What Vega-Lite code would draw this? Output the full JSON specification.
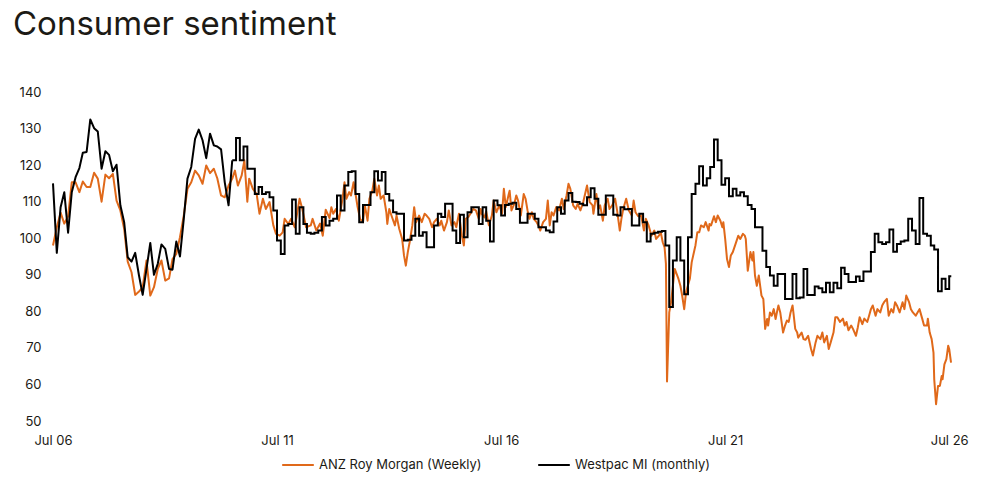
{
  "$schema": "https://vega.github.io/schema/vega-lite/v6.json",
  "width": 900,
  "height": 329,
  "padding": {"left": 13, "top": 9, "right": 10, "bottom": 5},
  "title": {"text": "Consumer sentiment", "anchor": "start", "frame": "bounds", "fontSize": 33, "font": "Inter", "fontWeight": 400, "color": "#1c1a15", "offset": 44},
  "datasets": {
    "anz": [
      {"date":"2006-07-01","value":98},{"date":"2006-08-01","value":103},{"date":"2006-09-01","value":107},{"date":"2006-10-01","value":104},{"date":"2006-11-01","value":106},{"date":"2006-12-01","value":115.3},
      {"date":"2007-01-01","value":115.3},{"date":"2007-02-01","value":112.6},{"date":"2007-03-01","value":115.5},{"date":"2007-04-01","value":114},{"date":"2007-05-01","value":114},{"date":"2007-06-01","value":117.9},
      {"date":"2007-07-01","value":116.3},{"date":"2007-08-01","value":110},{"date":"2007-09-01","value":117.4},{"date":"2007-10-01","value":116.4},{"date":"2007-11-01","value":117.6},{"date":"2007-12-01","value":110.3},
      {"date":"2008-01-01","value":107.6},{"date":"2008-02-01","value":102.6},{"date":"2008-03-01","value":93.6},{"date":"2008-04-01","value":90.7},{"date":"2008-05-01","value":84.5},{"date":"2008-06-01","value":85.4},
      {"date":"2008-07-01","value":86.6},{"date":"2008-08-01","value":93.9},{"date":"2008-09-01","value":84.3},{"date":"2008-10-01","value":86.6},{"date":"2008-11-01","value":91.6},{"date":"2008-12-01","value":93.9},
      {"date":"2009-01-01","value":88.4},{"date":"2009-02-01","value":89},{"date":"2009-03-01","value":94.3},{"date":"2009-04-01","value":95.7},{"date":"2009-05-01","value":100.3},{"date":"2009-06-01","value":106.2},
      {"date":"2009-07-01","value":113.5},{"date":"2009-08-01","value":115.3},{"date":"2009-09-01","value":118.5},{"date":"2009-10-01","value":117.2},{"date":"2009-11-01","value":114.9},{"date":"2009-12-01","value":119.9},
      {"date":"2010-01-01","value":117.8},{"date":"2010-02-01","value":119},{"date":"2010-03-01","value":116.4},{"date":"2010-04-01","value":111.7},{"date":"2010-05-01","value":111.2},{"date":"2010-06-01","value":114.4},
      {"date":"2010-07-01","value":116.3},{"date":"2010-07-23","value":118.5},{"date":"2010-08-16","value":114.4},{"date":"2010-09-16","value":117.2},{"date":"2010-10-08","value":121.3},{"date":"2010-11-01","value":110},
      {"date":"2010-11-16","value":116.3},{"date":"2010-12-16","value":113.5},{"date":"2011-01-16","value":112.1},{"date":"2011-02-08","value":106.7},{"date":"2011-03-08","value":110.8},{"date":"2011-04-01","value":108},
      {"date":"2011-05-01","value":109.9},{"date":"2011-06-01","value":103.5},{"date":"2011-06-23","value":101.2},{"date":"2011-07-23","value":100.7},{"date":"2011-08-16","value":101.6},{"date":"2011-09-01","value":105.3},
      {"date":"2011-10-01","value":103.9},{"date":"2011-10-23","value":105.3},{"date":"2011-11-23","value":103},{"date":"2011-12-16","value":107.6},{"date":"2012-01-01","value":110.8},{"date":"2012-01-23","value":108},
      {"date":"2012-02-23","value":103},{"date":"2012-04-01","value":103.5},{"date":"2012-04-16","value":105.3},{"date":"2012-05-16","value":102.1},{"date":"2012-06-16","value":104},{"date":"2012-07-08","value":100.7},
      {"date":"2012-08-01","value":107.8},{"date":"2012-09-01","value":105.5},{"date":"2012-09-16","value":108.5},{"date":"2012-10-01","value":106.7},{"date":"2012-10-23","value":108},{"date":"2012-11-16","value":104.8},
      {"date":"2012-12-16","value":110.8},{"date":"2013-01-01","value":115.3},{"date":"2013-01-16","value":110.8},{"date":"2013-02-08","value":112.6},{"date":"2013-02-23","value":111.7},{"date":"2013-03-16","value":115.3},
      {"date":"2013-04-01","value":112.1},{"date":"2013-04-16","value":108.9},{"date":"2013-05-08","value":105.3},{"date":"2013-06-01","value":104.4},{"date":"2013-06-16","value":109},{"date":"2013-07-08","value":104.8},
      {"date":"2013-07-23","value":110.8},{"date":"2013-08-16","value":113},{"date":"2013-09-01","value":116.3},{"date":"2013-09-23","value":111.7},{"date":"2013-10-08","value":114.4},{"date":"2013-10-23","value":110.8},
      {"date":"2013-11-16","value":111.7},{"date":"2013-12-08","value":107.1},{"date":"2013-12-16","value":103.9},{"date":"2014-01-01","value":108},{"date":"2014-01-23","value":105.8},{"date":"2014-02-16","value":103.5},
      {"date":"2014-03-01","value":106.2},{"date":"2014-03-23","value":102.6},{"date":"2014-04-16","value":99.8},{"date":"2014-05-01","value":95.3},{"date":"2014-05-16","value":92.5},{"date":"2014-06-01","value":96.2},
      {"date":"2014-06-16","value":98.9},{"date":"2014-07-08","value":103.5},{"date":"2014-07-23","value":108.5},{"date":"2014-08-08","value":104.4},{"date":"2014-09-01","value":106.2},{"date":"2014-09-23","value":104.4},
      {"date":"2014-10-16","value":106.7},{"date":"2014-11-01","value":106.2},{"date":"2014-11-23","value":105.3},{"date":"2014-12-16","value":103},{"date":"2015-01-01","value":104.4},{"date":"2015-01-23","value":105.3},
      {"date":"2015-02-16","value":103.5},{"date":"2015-03-01","value":104.8},{"date":"2015-03-23","value":102.1},{"date":"2015-04-16","value":104.4},{"date":"2015-05-01","value":107.6},{"date":"2015-05-23","value":103.5},
      {"date":"2015-06-16","value":104.4},{"date":"2015-07-01","value":103},{"date":"2015-07-23","value":106.7},{"date":"2015-08-16","value":100.7},{"date":"2015-09-01","value":98},{"date":"2015-09-16","value":105.3},
      {"date":"2015-10-08","value":105.8},{"date":"2015-11-01","value":107.1},{"date":"2015-11-16","value":108},{"date":"2015-12-08","value":107.6},{"date":"2016-01-01","value":105.3},{"date":"2016-01-16","value":108},
      {"date":"2016-01-23","value":106.7},{"date":"2016-02-16","value":105.7},{"date":"2016-03-01","value":107.3},{"date":"2016-03-23","value":103.5},{"date":"2016-04-16","value":106.2},{"date":"2016-05-01","value":110.3},
      {"date":"2016-05-23","value":107.1},{"date":"2016-06-16","value":109},{"date":"2016-07-08","value":106.7},{"date":"2016-07-23","value":113.5},{"date":"2016-08-08","value":108.5},{"date":"2016-09-01","value":112.1},
      {"date":"2016-09-08","value":113},{"date":"2016-09-23","value":107.6},{"date":"2016-10-16","value":109.4},{"date":"2016-11-01","value":111.7},{"date":"2016-11-16","value":110.3},{"date":"2016-12-08","value":106.2},
      {"date":"2017-01-01","value":112.1},{"date":"2017-01-16","value":110.8},{"date":"2017-02-01","value":107.6},{"date":"2017-02-16","value":105.3},{"date":"2017-03-08","value":107.1},{"date":"2017-03-23","value":105.3},
      {"date":"2017-04-16","value":104.4},{"date":"2017-05-01","value":103.5},{"date":"2017-05-16","value":102.1},{"date":"2017-06-08","value":104.4},{"date":"2017-07-01","value":105.3},{"date":"2017-07-16","value":110.3},
      {"date":"2017-08-01","value":103.5},{"date":"2017-08-16","value":107.1},{"date":"2017-09-01","value":106.2},{"date":"2017-09-23","value":108.5},{"date":"2017-10-16","value":107.6},{"date":"2017-11-08","value":110.8},
      {"date":"2017-11-23","value":108},{"date":"2017-12-16","value":111.7},{"date":"2018-01-01","value":114.9},{"date":"2018-01-16","value":113.5},{"date":"2018-02-08","value":109},{"date":"2018-03-01","value":108},
      {"date":"2018-03-16","value":109.4},{"date":"2018-04-08","value":107.6},{"date":"2018-05-01","value":109.9},{"date":"2018-05-16","value":112.1},{"date":"2018-06-01","value":114.4},{"date":"2018-06-23","value":109.9},
      {"date":"2018-07-16","value":109},{"date":"2018-07-23","value":106.7},{"date":"2018-08-16","value":112.1},{"date":"2018-09-01","value":108},{"date":"2018-09-16","value":109},{"date":"2018-10-08","value":104.8},
      {"date":"2018-10-23","value":109},{"date":"2018-11-16","value":110.8},{"date":"2018-12-01","value":108},{"date":"2018-12-23","value":109},{"date":"2019-01-16","value":110.8},{"date":"2019-02-01","value":107.6},
      {"date":"2019-02-23","value":102.1},{"date":"2019-03-08","value":105.3},{"date":"2019-03-23","value":108},{"date":"2019-04-16","value":110.8},{"date":"2019-05-08","value":107.6},{"date":"2019-06-01","value":106.2},
      {"date":"2019-06-16","value":110.3},{"date":"2019-07-01","value":107.1},{"date":"2019-07-23","value":106},{"date":"2019-08-16","value":106.2},{"date":"2019-09-08","value":102.1},{"date":"2019-09-23","value":105.3},
      {"date":"2019-10-16","value":103.5},{"date":"2019-11-08","value":100.7},{"date":"2019-12-01","value":102.1},{"date":"2019-12-16","value":99.8},{"date":"2020-01-08","value":100.7},{"date":"2020-01-23","value":101.6},
      {"date":"2020-02-08","value":98.9},{"date":"2020-02-23","value":97.5},{"date":"2020-03-05","value":93},{"date":"2020-03-14","value":60.8},{"date":"2020-04-01","value":79.7},{"date":"2020-04-16","value":82.5},
      {"date":"2020-05-16","value":91.6},{"date":"2020-06-01","value":90.2},{"date":"2020-06-16","value":88.8},{"date":"2020-07-01","value":87},{"date":"2020-07-16","value":84.2},{"date":"2020-08-01","value":80.6},
      {"date":"2020-08-16","value":85.2},{"date":"2020-08-23","value":86.1},{"date":"2020-09-16","value":88.9},{"date":"2020-10-01","value":93.4},{"date":"2020-11-01","value":98.1},{"date":"2020-11-16","value":101.6},
      {"date":"2020-12-01","value":101.6},{"date":"2020-12-16","value":103.5},{"date":"2021-01-08","value":103},{"date":"2021-01-23","value":104.4},{"date":"2021-02-16","value":102.1},{"date":"2021-02-23","value":103.9},
      {"date":"2021-03-08","value":103.5},{"date":"2021-04-01","value":106},{"date":"2021-04-16","value":104.4},{"date":"2021-05-01","value":106.2},{"date":"2021-05-23","value":104.8},{"date":"2021-06-08","value":103},
      {"date":"2021-06-16","value":104.4},{"date":"2021-07-01","value":99.8},{"date":"2021-07-16","value":94.3},{"date":"2021-08-01","value":92.1},{"date":"2021-08-16","value":95.3},{"date":"2021-09-01","value":96.2},
      {"date":"2021-09-23","value":98.4},{"date":"2021-10-16","value":100.7},{"date":"2021-11-01","value":99.8},{"date":"2021-11-23","value":101.2},{"date":"2021-12-08","value":100.7},{"date":"2021-12-16","value":99.8},
      {"date":"2022-01-01","value":91.1},{"date":"2022-01-23","value":96.2},{"date":"2022-02-08","value":93.9},{"date":"2022-02-16","value":96.2},{"date":"2022-03-01","value":89.8},{"date":"2022-03-16","value":87},
      {"date":"2022-04-01","value":89.8},{"date":"2022-04-23","value":84.3},{"date":"2022-05-08","value":83.4},{"date":"2022-05-23","value":75.2},{"date":"2022-06-08","value":77.9},{"date":"2022-06-16","value":76.1},
      {"date":"2022-07-01","value":79.7},{"date":"2022-07-16","value":78.8},{"date":"2022-08-01","value":80.6},{"date":"2022-08-16","value":77.9},{"date":"2022-09-01","value":80.6},{"date":"2022-09-08","value":81.6},
      {"date":"2022-09-23","value":79.7},{"date":"2022-10-16","value":74.2},{"date":"2022-11-01","value":76.1},{"date":"2022-11-16","value":77.5},{"date":"2022-12-01","value":77.1},{"date":"2022-12-16","value":79.7},
      {"date":"2023-01-01","value":81.6},{"date":"2023-01-08","value":79.7},{"date":"2023-01-23","value":75.2},{"date":"2023-02-08","value":74.2},{"date":"2023-02-16","value":72.8},{"date":"2023-03-16","value":74.2},
      {"date":"2023-04-01","value":72.4},{"date":"2023-04-16","value":72.2},{"date":"2023-05-08","value":73.3},{"date":"2023-06-01","value":69.7},{"date":"2023-06-16","value":67.9},{"date":"2023-07-08","value":71.5},
      {"date":"2023-07-23","value":73.3},{"date":"2023-08-16","value":72.4},{"date":"2023-09-01","value":74.2},{"date":"2023-09-16","value":71.5},{"date":"2023-10-08","value":73.3},{"date":"2023-10-23","value":69.7},
      {"date":"2023-11-08","value":71.5},{"date":"2023-12-01","value":74.2},{"date":"2023-12-16","value":78.4},{"date":"2024-01-01","value":78.4},{"date":"2024-01-23","value":77.1},{"date":"2024-02-16","value":78},
      {"date":"2024-03-01","value":76.1},{"date":"2024-03-16","value":77.1},{"date":"2024-04-01","value":74.8},{"date":"2024-04-23","value":76.1},{"date":"2024-05-08","value":75.2},{"date":"2024-06-01","value":73.3},
      {"date":"2024-06-16","value":75.6},{"date":"2024-07-01","value":78.4},{"date":"2024-07-23","value":76.5},{"date":"2024-08-08","value":78},{"date":"2024-09-01","value":77.1},{"date":"2024-09-16","value":78.8},
      {"date":"2024-10-01","value":80.6},{"date":"2024-10-16","value":81.6},{"date":"2024-11-08","value":78.8},{"date":"2024-11-23","value":80.6},{"date":"2024-12-16","value":79.7},{"date":"2025-01-01","value":81.6},
      {"date":"2025-01-16","value":82.5},{"date":"2025-02-08","value":83.4},{"date":"2025-02-23","value":78.8},{"date":"2025-03-16","value":80.6},{"date":"2025-04-01","value":79.7},{"date":"2025-04-16","value":82.5},
      {"date":"2025-05-01","value":81.6},{"date":"2025-05-23","value":79.7},{"date":"2025-06-16","value":82.5},{"date":"2025-07-01","value":80.6},{"date":"2025-07-16","value":84.3},{"date":"2025-08-08","value":82.5},
      {"date":"2025-08-23","value":80.6},{"date":"2025-09-08","value":79.7},{"date":"2025-10-01","value":78.8},{"date":"2025-10-16","value":79.7},{"date":"2025-11-01","value":80.6},{"date":"2025-11-23","value":78},
      {"date":"2025-12-08","value":76.1},{"date":"2026-01-01","value":76.1},{"date":"2026-01-08","value":78},{"date":"2026-01-23","value":74.2},{"date":"2026-02-08","value":72.4},{"date":"2026-02-23","value":68.7},
      {"date":"2026-03-01","value":61.4},{"date":"2026-03-16","value":54.6},{"date":"2026-04-01","value":59.6},{"date":"2026-04-16","value":59.6},{"date":"2026-05-01","value":62.3},{"date":"2026-05-08","value":61.4},
      {"date":"2026-05-23","value":65.5},{"date":"2026-06-08","value":66.9},{"date":"2026-06-23","value":70.6},{"date":"2026-07-01","value":69.7},{"date":"2026-07-16","value":66}
    ],
    "wpc": [
      {"date":"2006-07-01","value":115},{"date":"2006-08-01","value":96},{"date":"2006-09-01","value":108.5},{"date":"2006-10-01","value":112.6},{"date":"2006-11-01","value":101.5},{"date":"2006-12-01","value":112.6},
      {"date":"2007-01-01","value":116.7},{"date":"2007-02-01","value":119.2},{"date":"2007-03-01","value":123.4},{"date":"2007-04-01","value":123.6},{"date":"2007-05-01","value":132.5},{"date":"2007-06-01","value":130.1},
      {"date":"2007-07-01","value":129.2},{"date":"2007-08-01","value":119},{"date":"2007-09-01","value":123.8},{"date":"2007-10-01","value":122.8},{"date":"2007-11-01","value":118.3},{"date":"2007-12-01","value":120.1},
      {"date":"2008-01-01","value":109},{"date":"2008-02-01","value":104.4},{"date":"2008-03-01","value":94.8},{"date":"2008-04-01","value":93.6},{"date":"2008-05-01","value":96},{"date":"2008-06-01","value":89.8},
      {"date":"2008-07-01","value":84.5},{"date":"2008-08-01","value":91.6},{"date":"2008-09-01","value":98.7},{"date":"2008-10-01","value":90},{"date":"2008-11-01","value":93},{"date":"2008-12-01","value":98.3},
      {"date":"2009-01-01","value":97.1},{"date":"2009-02-01","value":91.6},{"date":"2009-03-01","value":91.4},{"date":"2009-04-01","value":99.1},{"date":"2009-05-01","value":95},{"date":"2009-06-01","value":105.3},
      {"date":"2009-07-01","value":116.3},{"date":"2009-08-01","value":119.5},{"date":"2009-09-01","value":127.2},{"date":"2009-10-01","value":129.7},{"date":"2009-11-01","value":126.8},{"date":"2009-12-01","value":121.9},
      {"date":"2010-01-01","value":128.6},{"date":"2010-02-01","value":125.4},{"date":"2010-03-01","value":125.1},{"date":"2010-04-01","value":124.3},{"date":"2010-05-01","value":115.3},{"date":"2010-06-01","value":109},
      {"date":"2010-07-01","value":121.3},{"date":"2010-08-01","value":127.4},{"date":"2010-09-01","value":121.3},{"date":"2010-10-01","value":125.1},{"date":"2010-11-01","value":119},{"date":"2010-12-01","value":119},
      {"date":"2011-01-01","value":112.1},{"date":"2011-02-01","value":114},{"date":"2011-03-01","value":112.1},{"date":"2011-04-01","value":112.6},{"date":"2011-05-01","value":111.2},{"date":"2011-06-01","value":107.6},
      {"date":"2011-07-01","value":99.4},{"date":"2011-08-01","value":95.7},{"date":"2011-09-01","value":103.5},{"date":"2011-10-01","value":103.9},{"date":"2011-11-01","value":110.6},{"date":"2011-12-01","value":101.2},
      {"date":"2012-01-01","value":108.5},{"date":"2012-02-01","value":103.9},{"date":"2012-03-01","value":101.5},{"date":"2012-04-01","value":101.2},{"date":"2012-05-01","value":101.5},{"date":"2012-06-01","value":102.1},
      {"date":"2012-07-01","value":105.8},{"date":"2012-08-01","value":103.5},{"date":"2012-09-01","value":104.8},{"date":"2012-10-01","value":105.3},{"date":"2012-11-01","value":111.7},{"date":"2012-12-01","value":107.6},
      {"date":"2013-01-01","value":114.4},{"date":"2013-02-01","value":118.1},{"date":"2013-03-01","value":118.3},{"date":"2013-04-01","value":112.1},{"date":"2013-05-01","value":104.4},{"date":"2013-06-01","value":109.1},
      {"date":"2013-07-01","value":109.1},{"date":"2013-08-01","value":112.6},{"date":"2013-09-01","value":118.3},{"date":"2013-10-01","value":115.8},{"date":"2013-11-01","value":118.1},{"date":"2013-12-01","value":112.1},
      {"date":"2014-01-01","value":110.3},{"date":"2014-02-01","value":107.1},{"date":"2014-03-01","value":106.7},{"date":"2014-04-01","value":106.7},{"date":"2014-05-01","value":99.4},{"date":"2014-06-01","value":99.6},
      {"date":"2014-07-01","value":100.7},{"date":"2014-08-01","value":105.3},{"date":"2014-09-01","value":100.7},{"date":"2014-10-01","value":101.6},{"date":"2014-11-01","value":97.5},{"date":"2014-12-01","value":97.5},
      {"date":"2015-01-01","value":103.5},{"date":"2015-02-01","value":106.7},{"date":"2015-03-01","value":105.8},{"date":"2015-04-01","value":109.4},{"date":"2015-05-01","value":109.4},{"date":"2015-06-01","value":102.1},
      {"date":"2015-07-01","value":98.7},{"date":"2015-08-01","value":106.4},{"date":"2015-09-01","value":100.3},{"date":"2015-10-01","value":107.1},{"date":"2015-11-01","value":108.5},{"date":"2015-12-01","value":108.5},
      {"date":"2016-01-01","value":103.9},{"date":"2016-02-01","value":108.5},{"date":"2016-03-01","value":104.8},{"date":"2016-04-01","value":99.1},{"date":"2016-05-01","value":110.3},{"date":"2016-06-01","value":109},
      {"date":"2016-07-01","value":106.2},{"date":"2016-08-01","value":109.1},{"date":"2016-09-01","value":109.4},{"date":"2016-10-01","value":109.7},{"date":"2016-11-01","value":108},{"date":"2016-12-01","value":104.2},
      {"date":"2017-01-01","value":104.2},{"date":"2017-02-01","value":106.7},{"date":"2017-03-01","value":106.7},{"date":"2017-04-01","value":105.3},{"date":"2017-05-01","value":103},{"date":"2017-06-01","value":103},
      {"date":"2017-07-01","value":102.1},{"date":"2017-08-01","value":101.6},{"date":"2017-09-01","value":104.6},{"date":"2017-10-01","value":108.5},{"date":"2017-11-01","value":106.7},{"date":"2017-12-01","value":110.3},
      {"date":"2018-01-01","value":112.4},{"date":"2018-02-01","value":110},{"date":"2018-03-01","value":109.9},{"date":"2018-04-01","value":109.4},{"date":"2018-05-01","value":109},{"date":"2018-06-01","value":111.2},
      {"date":"2018-07-01","value":113.7},{"date":"2018-08-01","value":110.8},{"date":"2018-09-01","value":106.4},{"date":"2018-10-01","value":106.4},{"date":"2018-11-01","value":111.7},{"date":"2018-12-01","value":111.7},
      {"date":"2019-01-01","value":106.4},{"date":"2019-02-01","value":106.2},{"date":"2019-03-01","value":108.5},{"date":"2019-04-01","value":107.9},{"date":"2019-05-01","value":108},{"date":"2019-06-01","value":103.5},
      {"date":"2019-07-01","value":103.5},{"date":"2019-08-01","value":106.7},{"date":"2019-09-01","value":104.4},{"date":"2019-10-01","value":99.1},{"date":"2019-11-01","value":101.2},{"date":"2019-12-01","value":101.5},
      {"date":"2020-01-01","value":101.8},{"date":"2020-02-01","value":102},{"date":"2020-03-01","value":98},{"date":"2020-04-01","value":81.2},{"date":"2020-05-01","value":93.9},{"date":"2020-06-01","value":100.3},
      {"date":"2020-07-01","value":93.9},{"date":"2020-08-01","value":84.7},{"date":"2020-09-01","value":100.3},{"date":"2020-10-01","value":112.1},{"date":"2020-11-01","value":114.9},{"date":"2020-12-01","value":119.7},
      {"date":"2021-01-01","value":114.4},{"date":"2021-02-01","value":116.4},{"date":"2021-03-01","value":119.5},{"date":"2021-04-01","value":127},{"date":"2021-05-01","value":121.3},{"date":"2021-06-01","value":114.6},
      {"date":"2021-07-01","value":116.4},{"date":"2021-08-01","value":111.5},{"date":"2021-09-01","value":113.5},{"date":"2021-10-01","value":111.7},{"date":"2021-11-01","value":112.6},{"date":"2021-12-01","value":111.5},
      {"date":"2022-01-01","value":109.1},{"date":"2022-02-01","value":108},{"date":"2022-03-01","value":103},{"date":"2022-04-01","value":103},{"date":"2022-05-01","value":96.6},{"date":"2022-06-01","value":92.1},
      {"date":"2022-07-01","value":89.8},{"date":"2022-08-01","value":87},{"date":"2022-09-01","value":90.2},{"date":"2022-10-01","value":90.2},{"date":"2022-11-01","value":83.4},{"date":"2022-12-01","value":83.4},
      {"date":"2023-01-01","value":90.2},{"date":"2023-02-01","value":83.6},{"date":"2023-03-01","value":83.8},{"date":"2023-04-01","value":91.6},{"date":"2023-05-01","value":84.5},{"date":"2023-06-01","value":84.5},
      {"date":"2023-07-01","value":86.8},{"date":"2023-08-01","value":86.3},{"date":"2023-09-01","value":85.2},{"date":"2023-10-01","value":87.8},{"date":"2023-11-01","value":85.2},{"date":"2023-12-01","value":87.8},
      {"date":"2024-01-01","value":86.3},{"date":"2024-02-01","value":91.9},{"date":"2024-03-01","value":90.2},{"date":"2024-04-01","value":88},{"date":"2024-05-01","value":88},{"date":"2024-06-01","value":89.5},
      {"date":"2024-07-01","value":88.3},{"date":"2024-08-01","value":90.9},{"date":"2024-09-01","value":90.9},{"date":"2024-10-01","value":96.2},{"date":"2024-11-01","value":101.2},{"date":"2024-12-01","value":98.9},
      {"date":"2025-01-01","value":98.4},{"date":"2025-02-01","value":98.9},{"date":"2025-03-01","value":102.4},{"date":"2025-04-01","value":96.3},{"date":"2025-05-01","value":98.4},{"date":"2025-06-01","value":99.1},
      {"date":"2025-07-01","value":99.4},{"date":"2025-08-01","value":105.3},{"date":"2025-09-01","value":102.1},{"date":"2025-10-01","value":98.4},{"date":"2025-11-01","value":111},{"date":"2025-12-01","value":101.2},
      {"date":"2026-01-01","value":100.7},{"date":"2026-02-01","value":98},{"date":"2026-03-01","value":96.9},{"date":"2026-04-01","value":85.5},{"date":"2026-05-01","value":88.9},{"date":"2026-06-01","value":86.1},
      {"date":"2026-07-01","value":89.6},{"date":"2026-07-18","value":89.6}
    ]
  },
  "encoding": {
    "x": {
      "field": "date",
      "type": "temporal",
      "scale": {
        "type": "utc",
        "nice": false,
        "domain": [{"year": 2006, "month": 7, "date": 1, "utc": true}, {"year": 2026, "month": 8, "date": 1, "utc": true}]
      },
      "axis": {
        "title": null,
        "format": "%b %y",
        "labelFlush": false,
        "labelPadding": 13,
        "values": [
          {"year": 2006, "month": 7, "date": 1, "utc": true},
          {"year": 2011, "month": 7, "date": 1, "utc": true},
          {"year": 2016, "month": 7, "date": 1, "utc": true},
          {"year": 2021, "month": 7, "date": 1, "utc": true},
          {"year": 2026, "month": 7, "date": 1, "utc": true}
        ]
      }
    },
    "y": {
      "field": "value",
      "type": "quantitative",
      "scale": {"domain": [50, 140], "nice": false, "zero": false},
      "axis": {"title": null, "labelPadding": 12, "minExtent": 40, "values": [50, 60, 70, 80, 90, 100, 110, 120, 130, 140]}
    },
    "color": {
      "datum": "ANZ Roy Morgan (Weekly)",
      "type": "nominal",
      "scale": {"domain": ["ANZ Roy Morgan (Weekly)", "Westpac MI (monthly)"], "range": ["#E0691A", "#000000"]},
      "legend": {
        "title": null,
        "orient": "none",
        "legendX": 228,
        "legendY": 356,
        "direction": "horizontal",
        "symbolType": "stroke",
        "symbolSize": 1000,
        "symbolStrokeWidth": 2,
        "labelFontSize": 13,
        "labelFont": "Inter",
        "labelColor": "#1c1a15",
        "labelLimit": 0,
        "columnPadding": 52
      }
    }
  },
  "layer": [
    {
      "data": {"name": "anz"},
      "mark": {"type": "line", "strokeWidth": 2, "strokeJoin": "round"}
    },
    {
      "data": {"name": "wpc"},
      "transform": [{"filter": {"field": "date", "lte": {"year": 2010, "month": 7, "date": 1, "utc": true}}}],
      "mark": {"type": "line", "strokeWidth": 2, "strokeJoin": "round"},
      "encoding": {"color": {"datum": "Westpac MI (monthly)", "type": "nominal"}}
    },
    {
      "data": {"name": "wpc"},
      "transform": [{"filter": {"field": "date", "gte": {"year": 2010, "month": 7, "date": 1, "utc": true}}}],
      "mark": {"type": "line", "strokeWidth": 2, "interpolate": "step-after"},
      "encoding": {"color": {"datum": "Westpac MI (monthly)", "type": "nominal"}}
    }
  ],
  "config": {
    "view": {"stroke": null},
    "font": "Inter",
    "axis": {
      "domain": false,
      "ticks": false,
      "grid": false,
      "labelFont": "Inter",
      "labelFontSize": 13,
      "labelColor": "#1c1a15"
    }
  }
}
